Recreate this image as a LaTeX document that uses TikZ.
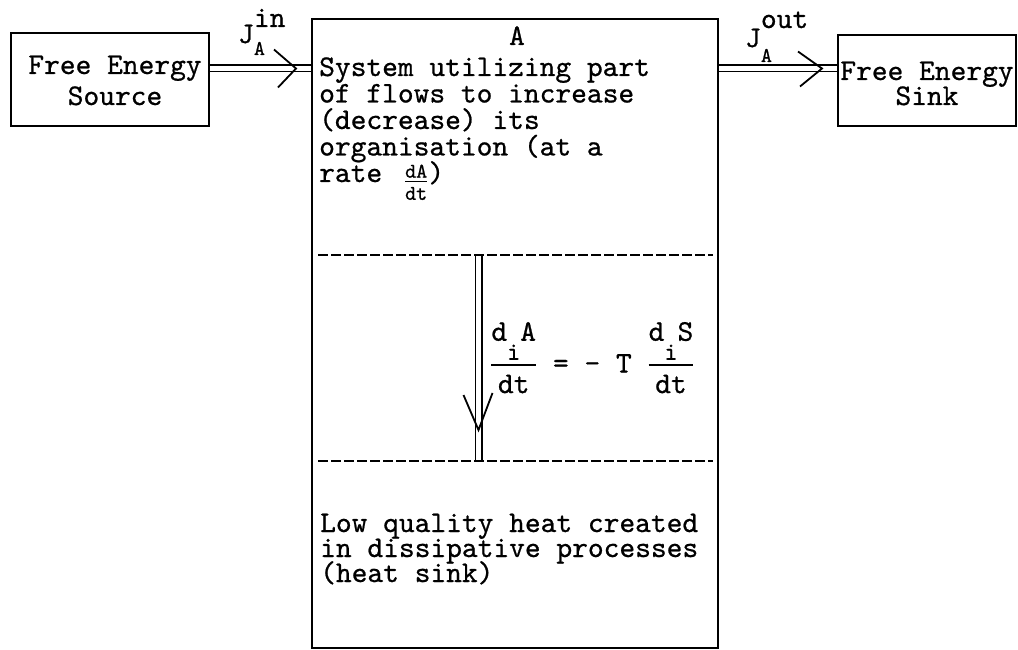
\RequirePackage{fix-cm}
\documentclass[tikz,border=0pt]{standalone}
\usepackage{amsmath}
\usepackage{fontspec}
\newfontfamily\tw{lmmono10-regular.otf}[FakeBold=0.7]
\usetikzlibrary{backgrounds}
\newcommand\fsmall{\fontsize{21}{21}\selectfont}
\newcommand\lowi{\raisebox{-19pt}{\fontsize{25}{25}\selectfont i}}
\newcommand\bigfr[2]{$\genfrac{}{}{1.5pt}{0}{\hbox{#1}}{\hbox{#2}}$}
\newcommand\smfr[2]{\raisebox{-7.5pt}{$\genfrac{}{}{1pt}{1}{\hbox{\fsmall #1}}{\hbox{\fsmall #2}}$}}
\begin{document}
\begin{tikzpicture}[x=1pt,y=-1pt,
  box/.style={draw, line width=1.6pt, inner sep=0pt, anchor=north west},
  txt/.style={font={\fontsize{30}{25}\selectfont\tw\lineskiplimit=-100pt\lineskip=0pt}, inner sep=0pt},
  systxt/.style={txt, font={\fontsize{30}{26.5}\selectfont\tw\lineskiplimit=-100pt\lineskip=0pt}},
  dbl/.style={draw, double, double distance=5pt, line width=1.5pt},
  head/.style={draw, line width=1.8pt},
  divider/.style={draw, line width=1.5pt, dash pattern=on 10pt off 3pt}]
\useasboundingbox (0,0) rectangle (1018,650);
% boxes
\node[box, minimum width=198pt, minimum height=93pt] (src) at (10,32) {};
\node[box, minimum width=178pt, minimum height=91pt] (snk) at (837,34) {};
\node[box, minimum width=406pt, minimum height=629pt] (main) at (311,18) {};
% texts (base anchor = baseline of the last line)
\node[txt, align=center, anchor=base] (srcT) at (115,105) {Free Energy\\[6pt]Source};
\node[txt, align=center, anchor=base] (snkT) at (927,105) {Free Energy\\Sink};
\node[txt, anchor=base] (titleA) at (517,45) {A};
\node[systxt, align=left, anchor=base west] (sysT) at (319,182) {System utilizing part\\of flows to increase\\(decrease) its\\organisation (at a\\rate\hspace{6pt} \smfr{dA}{dt})};
\node[txt, align=left, anchor=base west] (heatT) at (320,582) {Low quality heat created\\in dissipative processes\\(heat sink)};
\node[txt, anchor=base west] (eq) at (490,372.5) {\bigfr{d\lowi A}{dt} = - T \bigfr{d\lowi S}{dt}};
\node[txt, anchor=base west] (jin) at (238,43) {J\rlap{\raisebox{16pt}{in}}\raisebox{-12pt}{\fsmall A}};
\node[txt, anchor=base west] (jout) at (745,47) {J\rlap{\raisebox{19pt}{out}}\raisebox{-15pt}{\fsmall A}};
% coordinates
\coordinate (inY) at (0,68.5);
\coordinate (inTip) at (296,68.5);
\coordinate (outTip) at (822,68.5);
\coordinate (d1L) at (318,255);
\coordinate (d1R) at (713,255);
\coordinate (d2L) at (318,461);
\coordinate (d2R) at (713,461);
\coordinate (vx) at (478.5,0);
\coordinate (vTip) at (478.5,430);
% flows (under the boxes and dividers)
\begin{scope}[on background layer]
\fill[white] (0,0) rectangle (1018,650);
\draw[dbl] (src.east |- inY) -- (main.west |- inY);
\draw[dbl] (main.east |- inY) -- (snk.west |- inY);
\draw[dbl] (vx |- d1L) -- (vx |- d2L);
\end{scope}
\draw[head] ([shift={(-22,-19)}]inTip) -- (inTip) -- ([shift={(-18,19)}]inTip);
\draw[head] ([shift={(-24,-17)}]outTip) -- (outTip) -- ([shift={(-22,18)}]outTip);
\draw[head] ([shift={(-15,-35)}]vTip) -- (vTip) -- ([shift={(14,-37)}]vTip);
% dividers
\draw[divider] (d1L) -- (d1R);
\draw[divider] (d2L) -- (d2R);
\end{tikzpicture}
\end{document}
